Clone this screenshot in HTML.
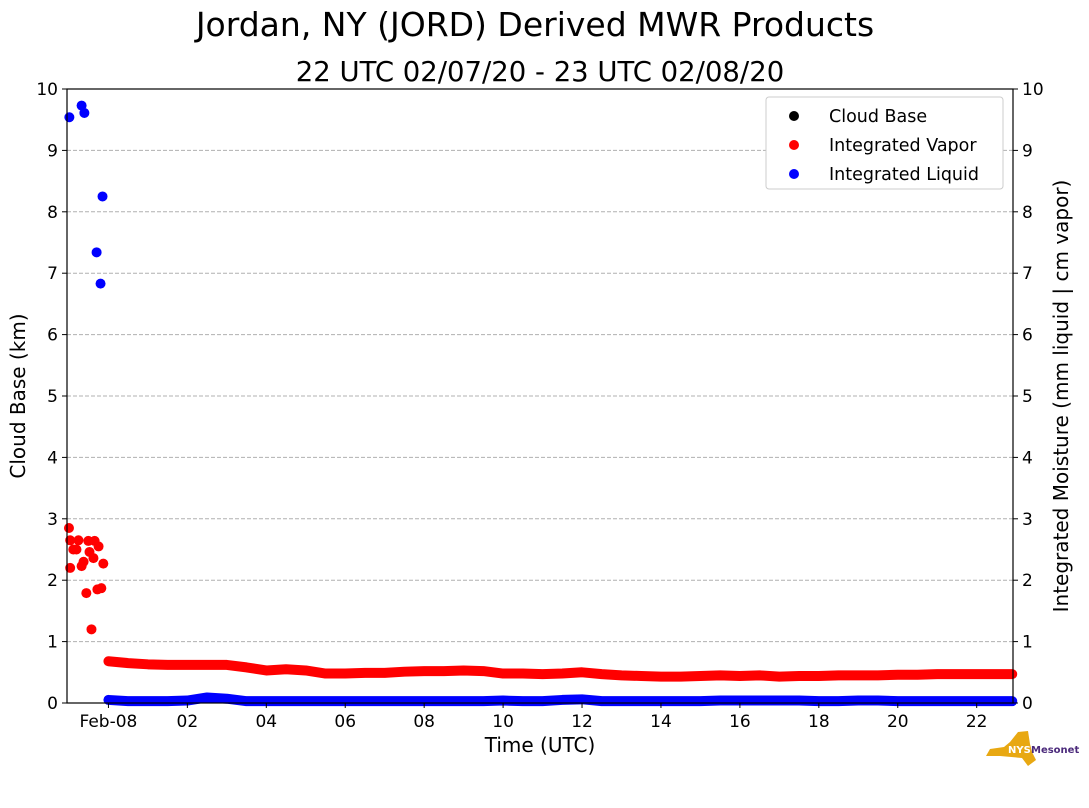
<!DOCTYPE html>
<html><head><meta charset="utf-8"><style>
body{margin:0;background:#fff;width:1089px;height:804px;overflow:hidden;font-family:"DejaVu Sans","Liberation Sans",sans-serif}
</style></head><body>
<svg id="c" width="1089" height="804" xmlns="http://www.w3.org/2000/svg" font-family="DejaVu Sans, Liberation Sans, sans-serif">
<text x="535" y="36" font-size="33" text-anchor="middle">Jordan, NY (JORD) Derived MWR Products</text>
<text x="540" y="81" font-size="27.5" text-anchor="middle">22 UTC 02/07/20 - 23 UTC 02/08/20</text>
<g id="grid"></g><g id="marks"></g><g id="axes"></g>
<text transform="translate(25,396) rotate(-90)" font-size="20" text-anchor="middle">Cloud Base (km)</text>
<text transform="translate(1068,396) rotate(-90)" font-size="20" text-anchor="middle">Integrated Moisture (mm liquid | cm vapor)</text>
<text x="540" y="752" font-size="20" text-anchor="middle">Time (UTC)</text>
<g>
<rect x="766" y="97" width="237" height="92" rx="3" fill="#fff" stroke="#ccc"/>
<circle cx="794" cy="116" r="5" fill="#000"/><text x="829" y="122" font-size="17.5">Cloud Base</text>
<circle cx="794" cy="145" r="5" fill="#f00"/><text x="829" y="151" font-size="17.5">Integrated Vapor</text>
<circle cx="794" cy="174" r="5" fill="#00f"/><text x="829" y="180" font-size="17.5">Integrated Liquid</text>
</g>
<g>
<path d="M1010 742 L1018 732 L1028 731 L1030 744 L1032 752 L1036 760 L1028 766 L1022 758 L1000 756 L986 756 L990 749 L1004 747Z" fill="#e8a812"/>
<text x="1008" y="753" font-size="10" font-weight="bold" fill="#fff">NYS</text>
<text x="1031" y="753" font-size="10" font-weight="bold" fill="#4b2a7b">Mesonet</text>
</g>
</svg>
<script>
const yTicks=[0,1,2,3,4,5,6,7,8,9,10];
const xTickHours=[0,2,4,6,8,10,12,14,16,18,20,22];
const xTickLabels=["Feb-08","02","04","06","08","10","12","14","16","18","20","22"];
const vaporEarlyT=[-1.0,-0.97,-0.97,-0.89,-0.81,-0.76,-0.68,-0.63,-0.56,-0.51,-0.48,-0.43,-0.38,-0.35,-0.28,-0.25,-0.18,-0.13];
const vaporEarlyV=[2.85,2.65,2.2,2.5,2.5,2.65,2.23,2.3,1.79,2.64,2.46,1.2,2.36,2.64,1.85,2.55,1.87,2.27];
const liquidEarlyT=[-0.99,-0.68,-0.61,-0.30,-0.20,-0.15];
const liquidEarlyV=[9.54,9.73,9.61,7.34,6.83,8.25];
const contT=[0,0.5,1,1.5,2,2.5,3,3.5,4,4.5,5,5.5,6,6.5,7,7.5,8,8.5,9,9.5,10,10.5,11,11.5,12,12.5,13,13.5,14,14.5,15,15.5,16,16.5,17,17.5,18,18.5,19,19.5,20,20.5,21,21.5,22,22.5,22.9];
const vaporV=[0.68,0.65,0.63,0.62,0.62,0.62,0.62,0.58,0.53,0.55,0.53,0.48,0.48,0.49,0.49,0.51,0.52,0.52,0.53,0.52,0.48,0.48,0.47,0.48,0.5,0.47,0.45,0.44,0.43,0.43,0.44,0.45,0.44,0.45,0.43,0.44,0.44,0.45,0.45,0.45,0.46,0.46,0.47,0.47,0.47,0.47,0.47];
const liquidV=[0.05,0.03,0.03,0.03,0.04,0.09,0.07,0.03,0.03,0.03,0.03,0.03,0.03,0.03,0.03,0.03,0.03,0.03,0.03,0.03,0.04,0.03,0.03,0.05,0.06,0.03,0.03,0.03,0.03,0.03,0.03,0.04,0.04,0.04,0.04,0.04,0.03,0.03,0.04,0.04,0.03,0.03,0.03,0.03,0.03,0.03,0.03];
const L=67,R=1013,T=89,B=703,t0=-1.05,t1=22.92;
const X=t=>L+(t-t0)/(t1-t0)*(R-L), Y=v=>B-v/10*(B-T);
const NS="http://www.w3.org/2000/svg";
function mk(p,tag,a){const e=document.createElementNS(NS,tag);for(const k in a)e.setAttribute(k,a[k]);p.appendChild(e);return e;}
const grid=document.getElementById('grid'),marks=document.getElementById('marks'),axes=document.getElementById('axes');
yTicks.forEach(v=>{
 if(v>0&&v<10){const g=mk(grid,'line',{x1:L,x2:R,y1:Y(v),y2:Y(v),stroke:'#b0b0b0','stroke-dasharray':'4,2'});
 
 }
 [[L,-5,'end',-9],[R,5,'start',9]].forEach(([x,d,an,o])=>{
  mk(axes,'line',{x1:x,x2:x+d,y1:Y(v),y2:Y(v),stroke:'#000'});
  const t=mk(axes,'text',{x:x+o,y:Y(v)+6,'font-size':17,'text-anchor':an});t.textContent=v;
  
  
 });
});
xTickHours.forEach((h,i)=>{
 mk(axes,'line',{x1:X(h),x2:X(h),y1:B,y2:B+5,stroke:'#000'});
 const t=mk(axes,'text',{x:X(h),y:B+24,'font-size':17,'text-anchor':'middle'});t.textContent=xTickLabels[i];
 
 
});
mk(axes,'rect',{x:L,y:T,width:R-L,height:B-T,fill:'none',stroke:'#000','stroke-width':1.2});
function band(vals,color,name){
 const p=mk(marks,'polyline',{points:contT.map((t,i)=>X(t)+','+Y(vals[i])).join(' '),fill:'none',stroke:color,'stroke-width':10,'stroke-linecap':'round','stroke-linejoin':'round'});
 
 
}
band(vaporV,'#f00','vapor-series');
band(liquidV,'#00f','liquid-series');
vaporEarlyT.forEach((t,i)=>{const c=mk(marks,'circle',{cx:X(t),cy:Y(vaporEarlyV[i]),r:5,fill:'#f00'});
 
 });
liquidEarlyT.forEach((t,i)=>{const c=mk(marks,'circle',{cx:X(t),cy:Y(liquidEarlyV[i]),r:5,fill:'#00f'});
 
 });
</script>
</body></html>
